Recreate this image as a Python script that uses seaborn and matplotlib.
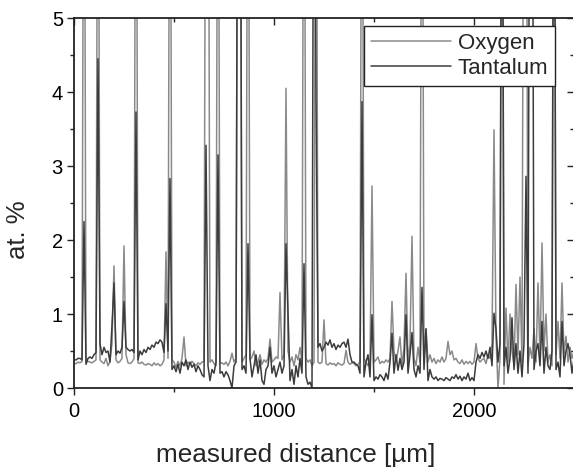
import numpy as np
import pandas as pd
import matplotlib
matplotlib.use("Agg")
import matplotlib.pyplot as plt
from matplotlib.ticker import MultipleLocator
from matplotlib.lines import Line2D
import seaborn as sns

# ---- data (step 10 um; values > 5 are clipped in the plot) ----
distance = list(range(0, 2510, 10))

oxygen = [
    0.33, 0.33, 0.35, 0.34, 0.36, 10, 0.35, 0.36, 0.35, 0.34,
    0.36, 0.38, 10, 0.38, 0.35, 0.33, 0.40, 0.30, 0.36, 0.60,
    1.65, 0.38, 0.34, 0.36, 0.40, 1.92, 0.45, 0.34, 0.33, 0.35,
    0.40, 10, 0.34, 0.33, 0.35, 0.32, 0.31, 0.33, 0.32, 0.30,
    0.34, 0.31, 0.33, 0.30, 0.32, 0.38, 1.84, 0.40, 10, 0.38,
    0.35, 0.28, 0.36, 0.30, 0.40, 0.69, 0.30, 0.35, 0.32, 0.36,
    0.33, 0.30, 0.34, 0.32, 0.35, 0.36, 10, 10, 0.35, 0.38,
    0.33, 0.30, 10, 0.33, 0.34, 0.32, 0.35, 0.30, 0.36, 0.47,
    0.35, 0.40, 10, 10, 0.35, 0.40, 0.45, 10, 0.38, 0.42,
    0.50, 0.30, 0.35, 0.45, 0.32, 0.38, 0.35, 0.40, 0.66, 0.35,
    0.38, 0.42, 0.40, 1.29, 0.38, 0.45, 4.05, 0.50, 0.35, 0.42,
    0.30, 0.45, 0.38, 0.55, 0.35, 10, 0.40, 0.35, 0.38, 0.30,
    0.35, 10, 0.35, 0.33, 0.35, 0.92, 0.33, 0.31, 0.34, 0.32,
    0.33, 0.30, 0.34, 0.32, 0.31, 0.33, 0.51, 0.35, 0.32, 0.34,
    0.33, 0.30, 0.32, 0.35, 10, 0.40, 0.35, 0.30, 0.40, 2.73,
    0.35, 0.38, 0.42, 0.33, 0.36, 0.34, 0.38, 0.35, 0.40, 1.17,
    0.50, 0.35, 0.50, 0.69, 0.30, 0.55, 1.55, 0.35, 0.60, 2.05,
    0.40, 0.30, 0.55, 0.35, 10, 0.40, 0.80, 0.35, 0.45, 0.35,
    0.40, 0.33, 0.38, 0.35, 0.42, 0.35, 0.40, 0.63, 0.45, 0.50,
    0.38, 0.40, 0.35, 0.33, 0.38, 0.32, 0.36, 0.33, 0.36, 0.32,
    0.35, 0.60, 0.40, 0.35, 0.38, 0.40, 0.33, 0.45, 0.40, 0.60,
    3.49, 0.70, 0.00, 0.40, 10, 0.05, 1.08, 0.35, 1.00, 0.50,
    0.30, 1.40, 0.45, 1.50, 0.35, 10, 10, 0.30, 0.55, 0.40,
    0.80, 0.35, 1.42, 0.40, 1.96, 0.50, 1.00, 0.35, 0.45, 0.30,
    10, 0.45, 0.90, 0.40, 1.42, 0.45, 0.70, 0.35, 0.55, 0.40,
    0.50,
]

tantalum = [
    0.38, 0.38, 0.40, 0.40, 0.38, 2.25, 0.32, 0.40, 0.42, 0.40,
    0.45, 0.48, 4.45, 0.60, 0.45, 0.55, 0.48, 0.50, 0.35, 0.85,
    1.42, 0.45, 0.50, 0.47, 0.55, 1.17, 0.55, 0.52, 0.50, 0.52,
    0.48, 3.73, 0.38, 0.50, 0.45, 0.52, 0.48, 0.55, 0.52, 0.58,
    0.55, 0.62, 0.60, 0.65, 0.62, 0.48, 1.14, 0.50, 2.83, 0.25,
    0.30, 0.22, 0.32, 0.20, 0.35, 0.30, 0.38, 0.25, 0.35, 0.28,
    0.32, 0.22, 0.30, 0.25, 0.18, 0.15, 3.28, 0.30, 0.10, 0.25,
    0.20, 0.35, 3.15, 0.20, 0.22, 0.15, 0.22, 0.18, 0.10, 0.00,
    0.30, 0.35, 10, 10, 0.25, 0.30, 0.20, 1.95, 0.40, 0.15,
    0.30, 0.45, 0.20, 0.38, 0.10, 0.05, 0.25, 0.30, 0.55, 0.20,
    0.30, 0.15, 0.25, 0.35, 0.20, 0.30, 1.95, 1.00, 0.10, 0.25,
    0.05, 0.30, 0.15, 0.40, 0.20, 1.68, 0.15, 0.05, 0.08, 0.00,
    10, 3.94, 0.55, 0.60, 0.50, 0.55, 0.62, 0.58, 0.65, 0.55,
    0.60, 0.52, 0.58, 0.55, 0.60, 0.62, 0.55, 0.66, 0.45, 0.35,
    0.35, 0.32, 0.30, 0.20, 3.87, 0.15, 0.35, 0.45, 0.15, 0.99,
    0.10, 0.15, 0.12, 0.18, 0.15, 0.10, 0.20, 0.12, 0.35, 0.74,
    0.20, 0.45, 0.24, 0.40, 0.25, 0.35, 0.99, 0.20, 0.45, 0.75,
    0.25, 0.15, 0.30, 0.20, 1.36, 0.25, 0.80, 0.10, 0.25, 0.15,
    0.12, 0.15, 0.10, 0.13, 0.12, 0.10, 0.14, 0.12, 0.10, 0.15,
    0.13, 0.18, 0.12, 0.16, 0.10, 0.15, 0.12, 0.20, 0.10, 0.14,
    0.10, 0.35, 0.45, 0.40, 0.48, 0.42, 0.50, 0.40, 0.55, 0.30,
    1.01, 0.80, 0.35, 0.60, 10, 0.30, 0.55, 0.20, 0.40, 0.95,
    0.25, 0.60, 0.20, 0.50, 0.15, 0.60, 2.86, 0.20, 10, 10,
    0.25, 0.50, 0.60, 0.30, 0.90, 0.20, 0.55, 0.30, 0.25, 0.50,
    10, 0.25, 0.35, 0.15, 0.90, 0.30, 0.50, 0.60, 0.45, 0.20,
    0.40,
]

series_names = ["Oxygen", "Tantalum"]
series_colors = ["#8a8a8a", "#3c3c3c"]
x_ticks = [0, 1000, 2000]
y_ticks = [0, 1, 2, 3, 4, 5]

df = pd.DataFrame({
    "distance": distance * 2,
    "value": oxygen + tantalum,
    "element": [series_names[0]] * len(distance) + [series_names[1]] * len(distance),
})

sns.set_theme(style="ticks")
plt.rcParams["font.family"] = ["Liberation Sans", "DejaVu Sans"]

W, H = 573, 468
fig = plt.figure(figsize=(W / 100, H / 100), dpi=100)
ax = fig.add_axes([74 / W, 80 / H, 500 / W, 370 / H])

sns.lineplot(data=df, x="distance", y="value", hue="element",
             palette=dict(zip(series_names, series_colors)),
             estimator=None, sort=False, linewidth=1.1, ax=ax, legend=False)

ax.set_xlim(0, 2500)
ax.set_ylim(0, 5)
ax.set_xticks(x_ticks)
ax.set_yticks(y_ticks)
ax.xaxis.set_minor_locator(MultipleLocator(500))
ax.yaxis.set_minor_locator(MultipleLocator(0.5))

for s in ax.spines.values():
    s.set_visible(True)
    s.set_linewidth(1.3)
    s.set_color("#222222")

ax.tick_params(axis="both", which="major", direction="out", length=5, width=1.0,
               labelsize=14.5, pad=3, colors="#222222", labelcolor="black")
ax.tick_params(axis="both", which="minor", direction="out", length=3, width=1.0, colors="#222222")
ax.tick_params(axis="x", which="major", pad=5)
ax.tick_params(top=True, right=True, which="both")
# mirrored ticks on top/right point inward
for t in ax.xaxis.get_major_ticks() + ax.xaxis.get_minor_ticks():
    t.tick2line.set_marker(matplotlib.lines.TICKDOWN)
for t in ax.yaxis.get_major_ticks() + ax.yaxis.get_minor_ticks():
    t.tick2line.set_marker(matplotlib.lines.TICKLEFT)

ax.set_xlabel("measured distance [µm]", fontsize=18.8)
ax.set_ylabel("at. %", fontsize=18.5)
ax.xaxis.set_label_coords(0.443, -0.148)
ax.yaxis.set_label_coords(-0.088, 0.427)

handles = [Line2D([], [], color=c, linewidth=1.1) for c in series_colors]
leg = ax.legend(handles, series_names, loc="upper right",
                bbox_to_anchor=(0.962, 0.978), fontsize=16,
                frameon=True, fancybox=False, framealpha=1.0,
                edgecolor="#222222", handlelength=3.6, handletextpad=0.3,
                labelspacing=0.2, borderpad=0.3, borderaxespad=0.0)
leg.get_frame().set_linewidth(1.0)

fig.savefig("out.png", dpi=100)
